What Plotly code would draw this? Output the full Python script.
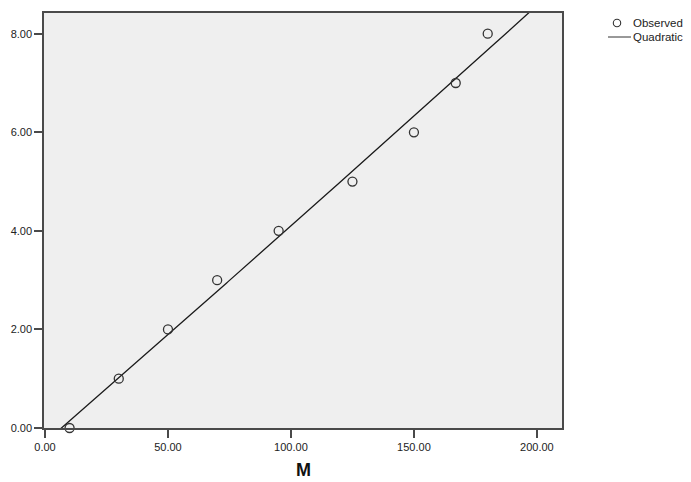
import numpy as np
import plotly.graph_objects as go

# Observed data
m_values = [10, 30, 50, 70, 95, 125, 150, 167, 180]
y_values = [0, 1, 2, 3, 4, 5, 6, 7, 8]

x_ticks = [0, 50, 100, 150, 200]
y_ticks = [0, 2, 4, 6, 8]

# Quadratic curve fit of the observed data
coef = np.polyfit(m_values, y_values, 2)
x_fit = np.linspace(0, 210, 300)
y_fit = np.polyval(coef, x_fit)

FONT = "Liberation Sans, Arial, sans-serif"
AX = "#4a4a4a"

fig = go.Figure()
fig.add_trace(go.Scatter(
    x=x_fit, y=y_fit, mode="lines", name="Quadratic",
    line=dict(color="#1a1a1a", width=1.3), showlegend=False, cliponaxis=True,
))
fig.add_trace(go.Scatter(
    x=m_values, y=y_values, mode="markers", name="Observed",
    marker=dict(symbol="circle-open", size=9, color="#333333", line=dict(width=1.3)),
    showlegend=False, cliponaxis=False,
))

L, R, T, B = 44, 129, 13, 54
W, H = 691, 482
pw, ph = W - L - R, H - T - B

def px(x):
    return (x - L) / pw

def py(y):
    return (H - B - y) / ph

shapes = [
    dict(type="circle", xref="paper", yref="paper",
         x0=px(613.3), x1=px(620.7), y0=py(26.7), y1=py(19.3),
         line=dict(color="#333333", width=1.1)),
    dict(type="line", xref="paper", yref="paper",
         x0=px(608), x1=px(631), y0=py(37), y1=py(37),
         line=dict(color="#333333", width=1)),
]
annotations = [
    dict(text="Observed", xref="paper", yref="paper", x=px(631), y=py(23),
         xanchor="left", yanchor="middle", showarrow=False,
         font=dict(family=FONT, size=11.5, color="#222222")),
    dict(text="Quadratic", xref="paper", yref="paper", x=px(631), y=py(37),
         xanchor="left", yanchor="middle", showarrow=False,
         font=dict(family=FONT, size=11.5, color="#222222")),
    dict(text="<b>M</b>", xref="paper", yref="paper", x=px(303), y=py(470),
         xanchor="center", yanchor="middle", showarrow=False,
         font=dict(family=FONT, size=18, color="#111111")),
]

fig.update_layout(
    width=W, height=H,
    margin=dict(l=L, r=R, t=T, b=B),
    paper_bgcolor="white", plot_bgcolor="#efefef",
    font=dict(family=FONT, size=11, color="#222222"),
    shapes=shapes, annotations=annotations,
    showlegend=False,
)
fig.update_xaxes(
    range=[-0.4, 210.2], tickvals=x_ticks, tickformat=".2f",
    showgrid=False, zeroline=False,
    showline=True, mirror=True, linecolor=AX, linewidth=1.5,
    ticks="outside", ticklen=8, tickwidth=1.5, tickcolor=AX,
    tickfont=dict(family=FONT, size=11, color="#222222"),
)
fig.update_yaxes(
    range=[0, 8.42], tickvals=y_ticks, tickformat=".2f",
    showgrid=False, zeroline=False,
    showline=True, mirror=True, linecolor=AX, linewidth=1.5,
    ticks="outside", ticklen=8, tickwidth=1.5, tickcolor=AX,
    tickfont=dict(family=FONT, size=11, color="#222222"),
)

fig.write_html("out.html")
